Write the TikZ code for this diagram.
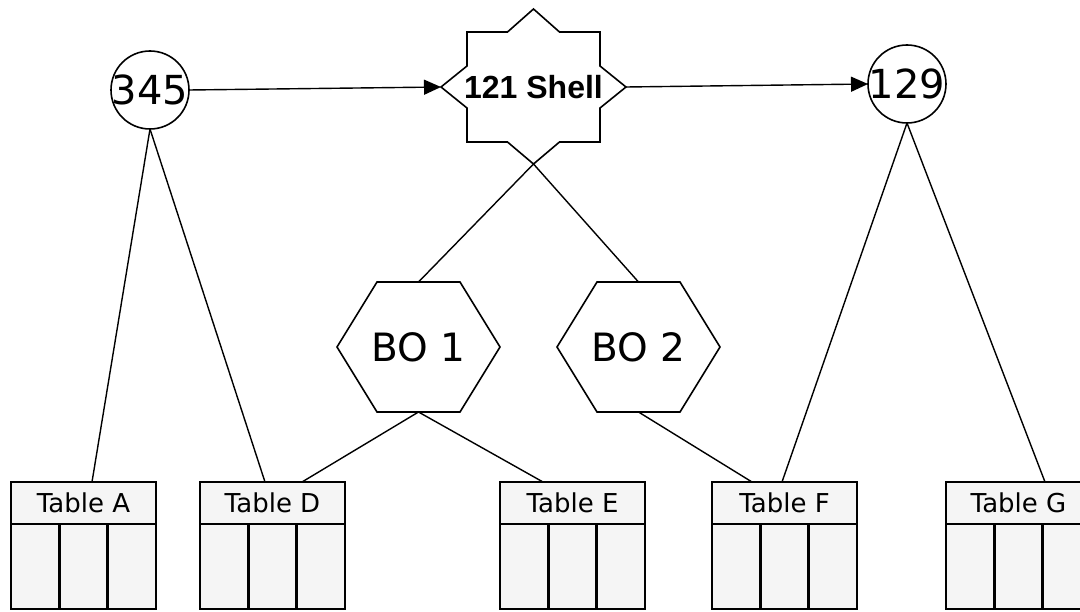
\documentclass[tikz,border=0pt]{standalone}
\usepackage{fontspec}
\setmainfont{DejaVu Sans}
\newfontfamily\shellfont{Liberation Sans}
\usetikzlibrary{arrows.meta,calc}
\newcommand\dbtable[3]{%
  \node[tablehead,anchor=north west] (#1) at (#2,482) {#3};
  \draw[tableline,fill=tablefill] (#1.south west) rectangle ($(#1.south east)+(0,85)$);
  \draw[tableline] ($(#1.south west)!1/3!(#1.south east)$) -- ++(0,85);
  \draw[tableline] ($(#1.south west)!2/3!(#1.south east)$) -- ++(0,85);
}
\colorlet{tablefill}{black!4}
\begin{document}
\begin{tikzpicture}[x=1pt,y=-1pt,
  conn/.style={line width=1.4pt},
  arr/.style={conn,-{Triangle[length=17pt,width=15pt]}},
  outline/.style={line width=1.6pt,line join=miter},
  roundnode/.style={circle,draw,line width=1.6pt,minimum size=78pt,inner sep=0pt,outer sep=0pt},
  bigtext/.style={inner sep=0pt,font=\fontsize{40}{40}\selectfont},
  hexbox/.style={minimum width=163pt,minimum height=130pt,inner sep=0pt,outer sep=0pt,font=\fontsize{39}{39}\selectfont},
  tablehead/.style={draw,fill=tablefill,line width=2.6pt,minimum width=145pt,minimum height=42pt,inner sep=0pt,outer sep=0pt,font=\fontsize{26}{26}\selectfont},
  tableline/.style={line width=2.6pt}
]
\useasboundingbox (0,0) rectangle (1080,612);
\clip (0,0) rectangle (1080,612);

% circles
\node[roundnode] (c345) at (150,90) {};
\node[bigtext] at (c345.center) {345};
\node[roundnode] (c129) at (907,84) {};
\node[bigtext] at (c129.center) {129};

% shell star
\node[minimum width=133pt,minimum height=110pt,inner sep=0pt,outer sep=0pt,
      font=\shellfont\bfseries\fontsize{32}{32}\selectfont] (shell) at (533.5,87) {121 Shell};
\draw[outline,shift={(shell.center)}]
  (-66.5,-55) -- (-26,-55) -- (0,-78) -- (26,-55) -- (66.5,-55)
  -- (66.5,-21) -- (92.5,0) -- (66.5,21) -- (66.5,55)
  -- (26,55) -- (0,77) -- (-26,55) -- (-66.5,55)
  -- (-66.5,21) -- (-92.5,0) -- (-66.5,-21) -- cycle;
\coordinate (shellW) at ($(shell.center)+(-92.5,0)$);
\coordinate (shellE) at ($(shell.center)+(92.5,0)$);
\coordinate (shellS) at ($(shell.center)+(0,77)$);

% hexagons
\node[hexbox] (bo1) at (418.5,347) {BO 1};
\draw[outline] (bo1.west) -- ++(40,-65) -- ++(83,0) -- ++(40,65) -- ++(-40,65) -- ++(-83,0) -- cycle;
\node[hexbox] (bo2) at (638.5,347) {BO 2};
\draw[outline] (bo2.west) -- ++(40,-65) -- ++(83,0) -- ++(40,65) -- ++(-40,65) -- ++(-83,0) -- cycle;

% tables
\dbtable{tabA}{11}{Table A}
\dbtable{tabD}{200}{Table D}
\dbtable{tabE}{500}{Table E}
\dbtable{tabF}{712}{Table F}
\dbtable{tabG}{946}{Table G}

% arrows
\draw[arr] (c345.east) -- (shellW);
\draw[arr] (shellE) -- (c129.west);

% connectors
\draw[conn] (c345.south) -- ($(tabA.north west)+(81,0)$);
\draw[conn] (c345.south) -- ($(tabD.north west)+(65,0)$);
\draw[conn] (shellS) -- (bo1.north);
\draw[conn] (shellS) -- (bo2.north);
\draw[conn] (bo1.south) -- ($(tabD.north west)+(102,0)$);
\draw[conn] (bo1.south) -- ($(tabE.north west)+(43,0)$);
\draw[conn] (bo2.south) -- ($(tabF.north west)+(40,0)$);
\draw[conn] (c129.south) -- ($(tabF.north west)+(70,0)$);
\draw[conn] (c129.south) -- ($(tabG.north west)+(99,0)$);
\end{tikzpicture}
\end{document}
